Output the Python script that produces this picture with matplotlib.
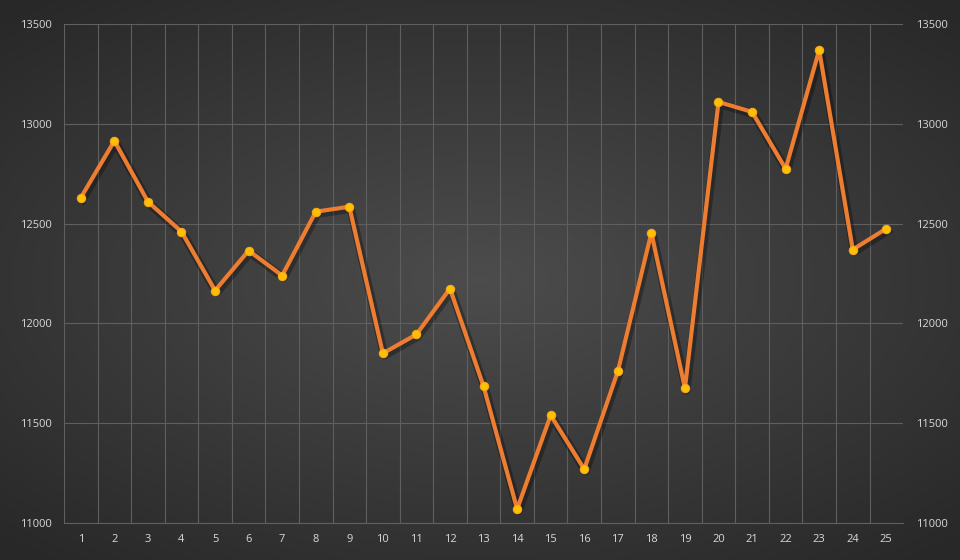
import matplotlib
matplotlib.use('Agg')
import matplotlib.pyplot as plt
import matplotlib.patheffects as pe
import numpy as np

categories = [str(i) for i in range(1, 26)]
values = [12630, 12915, 12610, 12460, 12165, 12365, 12240, 12560, 12585, 11850,
          11945, 12175, 11685, 11070, 11540, 11270, 11760, 12455, 11675, 13110,
          13060, 12775, 13370, 12370, 12475]
y_ticks = [11000, 11500, 12000, 12500, 13000, 13500]

plt.rcParams['font.family'] = ['Open Sans', 'DejaVu Sans']
text_color = '#d9d9d9'
grid_color = '#5f5f5f'

fig = plt.figure(figsize=(9.6, 5.6), dpi=100)

# radial gradient background
bg = fig.add_axes([0, 0, 1, 1], zorder=-10)
yy, xx = np.mgrid[-1:1:280j, -1:1:480j]
r = np.sqrt((xx * 0.95) ** 2 + (yy * 1.05) ** 2)
shade = 0.30 - 0.14 * np.clip(r / 1.35, 0, 1)
bg.imshow(np.dstack([shade] * 3), aspect='auto', extent=[0, 1, 0, 1])
bg.axis('off')

ax = fig.add_axes([0.0667, 0.066, 0.874, 0.891])
ax.patch.set_alpha(0)
x = np.arange(len(categories))

# soft shadow under the line
ax.plot(x, values, color='black', lw=6, alpha=0.3, solid_joinstyle='round',
        zorder=2, path_effects=[pe.Stroke(offset=(1, -1.5))])
ax.plot(x, values, color='#ed7d31', lw=3, solid_joinstyle='round', zorder=3)
ax.plot(x, values, ls='none', marker='o', ms=6, mfc='#ffc000', mec='#f5a623',
        mew=0.8, zorder=4)

ax.set_xlim(-0.5, len(categories) - 0.5)
ax.set_ylim(11000, 13500)
ax.set_xticks(x)
ax.set_xticklabels(categories)
ax.set_yticks(y_ticks)
ax.set_yticklabels([str(v) for v in y_ticks])
ax.set_xticks(np.arange(-0.5, len(categories) - 0.5, 1), minor=True)

ax.grid(True, which='minor', axis='x', color=grid_color, lw=0.8)
ax.grid(True, which='major', axis='y', color=grid_color, lw=0.8)
ax.grid(False, which='major', axis='x')
ax.tick_params(which='both', length=0, colors=text_color, labelsize=8)
ax.tick_params(axis='x', pad=8)
ax.tick_params(axis='y', pad=9)
for s in ['top', 'right', 'left']:
    ax.spines[s].set_visible(False)
ax.spines['bottom'].set_color(grid_color)

ax2 = ax.twinx()
ax2.set_ylim(ax.get_ylim())
ax2.set_yticks(y_ticks)
ax2.set_yticklabels([str(v) for v in y_ticks])
ax2.tick_params(length=0, colors=text_color, labelsize=8, pad=9)
for s in ax2.spines.values():
    s.set_visible(False)

fig.savefig('out.png', dpi=100)
